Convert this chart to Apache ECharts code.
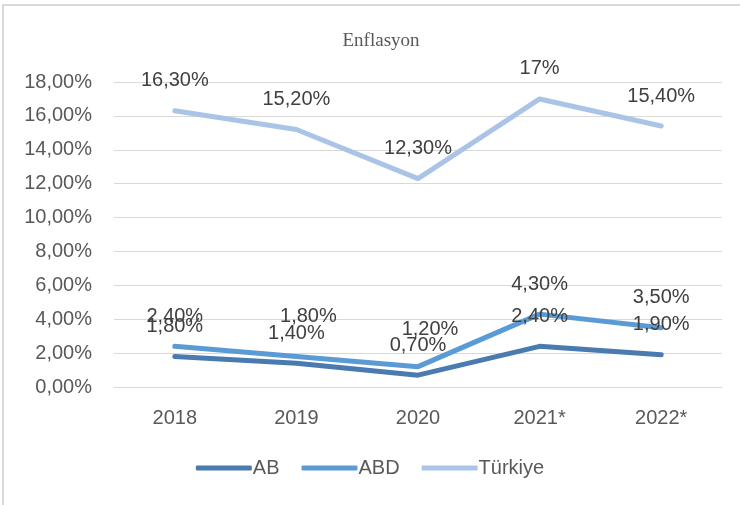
<!DOCTYPE html>
<html>
<head>
<meta charset="utf-8">
<script src="https://cdn.jsdelivr.net/npm/echarts@6/dist/echarts.min.js"></script>
<style>
  html, body { margin: 0; padding: 0; background: #fff; }
  #frame {
    position: absolute; left: 2px; top: 4px; width: 738px; height: 501px;
    border-left: 2px solid #d9d9d9; border-top: 2px solid #d9d9d9;
  }
  #chart { position: absolute; left: 0; top: 0; width: 740px; height: 505px; }
</style>
</head>
<body>
<div id="frame"></div>
<div id="chart"></div>
<script>
// veriler
var years = ['2018', '2019', '2020', '2021*', '2022*']
var ab = [1.8, 1.4, 0.7, 2.4, 1.9]
var abd = [2.4, 1.8, 1.2, 4.3, 3.5]
var turkiye = [16.3, 15.2, 12.3, 17, 15.4]
var yTicks = [0, 2, 4, 6, 8, 10, 12, 14, 16, 18]

var font = 'Liberation Sans, Arial, sans-serif'

function fmt (v) {
  if (Math.round(v) === v && v > 10) return v + '%'
  return v.toFixed(2).replace('.', ',') + '%'
}

function makeSeries (name, values, color, offsets) {
  return {
    name: name,
    type: 'line',
    data: values,
    symbol: 'circle',
    symbolSize: 0,
    showSymbol: true,
    lineStyle: { width: 5, color: color, cap: 'round', join: 'round' },
    itemStyle: { color: color },
    label: {
      show: true,
      position: 'top',
      distance: 20,
      color: '#404040',
      fontFamily: font,
      fontSize: 20,
      formatter: function (p) { return fmt(p.value) }
    },
    labelLayout: offsets ? function (p) {
      var o = offsets[p.dataIndex]
      return o ? { dx: o[0], dy: o[1] } : {}
    } : null,
    emphasis: { disabled: true }
  }
}

var myChart = echarts.init(document.getElementById('chart'))
var option = {
  backgroundColor: 'transparent',
  animation: false,
  title: {
    text: 'Enflasyon',
    left: 376,
    textAlign: 'center',
    top: 27,
    textStyle: { fontFamily: 'Liberation Serif, Times New Roman, serif', fontSize: 19, fontWeight: 'normal', color: '#595959' }
  },
  grid: { left: 114, right: 18, top: 82, bottom: 118 },
  legend: {
    bottom: 22,
    left: 'center',
    itemWidth: 56,
    itemHeight: 5,
    itemGap: 22,
    icon: 'roundRect',
    textStyle: { fontFamily: font, fontSize: 20, color: '#595959', padding: [0, 0, 0, -4] },
    data: ['AB', 'ABD', 'Türkiye']
  },
  xAxis: {
    type: 'category',
    data: years,
    boundaryGap: true,
    axisLine: { lineStyle: { color: '#d9d9d9', width: 1 } },
    axisTick: { show: false },
    axisLabel: { margin: 21, fontFamily: font, fontSize: 20, color: '#595959' }
  },
  yAxis: {
    type: 'value',
    min: yTicks[0],
    max: yTicks[yTicks.length - 1],
    interval: 2,
    axisLine: { show: false },
    axisTick: { show: false },
    splitLine: { lineStyle: { color: '#d9d9d9', width: 1 } },
    axisLabel: {
      margin: 22,
      fontFamily: font,
      fontSize: 20,
      color: '#595959',
      formatter: function (v) { return v.toFixed(2).replace('.', ',') + '%' }
    }
  },
  series: [
    makeSeries('AB', ab, '#4a7bb0'),
    makeSeries('ABD', abd, '#5b9bd5', [null, [12, -10], [12, -7], null, null]),
    makeSeries('Türkiye', turkiye, '#a9c4e6')
  ]
}
myChart.setOption(option)
</script>
</body>
</html>
